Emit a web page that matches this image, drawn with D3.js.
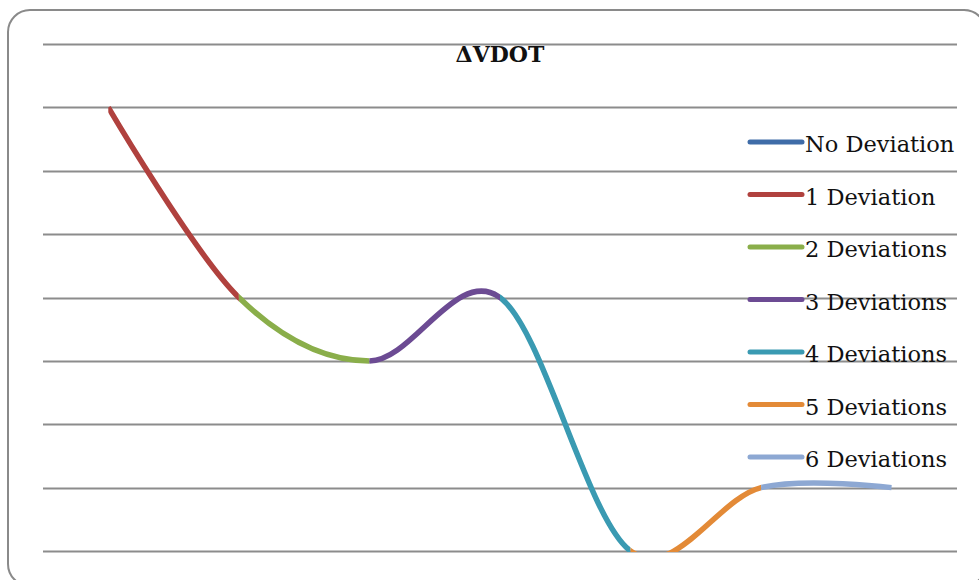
<!DOCTYPE html>
<html>
<head>
<meta charset="utf-8">
<script src="https://cdn.jsdelivr.net/npm/d3@7"></script>
<style>
  html, body { margin: 0; padding: 0; background: #ffffff; }
  svg { display: block; }
</style>
</head>
<body>
<svg id="chart" width="979" height="580"></svg>
<script>
// ---- data ----
const title = "ΔVDOT";
const categories = ["1", "2", "3", "4", "5", "6", "7"];
const vdotValues = [7, 4, 3, 4, 0, 1, 1];
const seriesNames = ["No Deviation", "1 Deviation", "2 Deviations", "3 Deviations", "4 Deviations", "5 Deviations", "6 Deviations"];
// each series covers the segment from point segmentStart[i] to segmentStart[i]+1 (null = not drawn)
const segmentStart = [null, 0, 1, 2, 3, 4, 5];
const seriesColors = ["#3f6ca8", "#b0413e", "#8aae4a", "#6c4b93", "#3a9ab2", "#e38a37", "#8da8d3"];
const yTicks = [0, 1, 2, 3, 4, 5, 6, 7, 8];

// ---- layout ----
const W = 979, H = 580;
const plot = { left: 43, right: 957, top: 44, bottom: 551 };
const svg = d3.select("#chart");

// outer rounded frame
svg.append("rect")
  .attr("x", 8).attr("y", 10)
  .attr("width", 978).attr("height", 576)
  .attr("rx", 22).attr("ry", 22)
  .attr("fill", "#ffffff")
  .attr("stroke", "#8a8a8a")
  .attr("stroke-width", 2);

const x = d3.scaleBand().domain(categories).range([plot.left, plot.right]);
const y = d3.scaleLinear().domain([0, 8]).range([plot.bottom, plot.top]);

// gridlines
svg.append("g").selectAll("line").data(yTicks).join("line")
  .attr("x1", plot.left).attr("x2", plot.right)
  .attr("y1", d => Math.round(y(d)) + 0.5).attr("y2", d => Math.round(y(d)) + 0.5)
  .attr("stroke", "#8c8c8c").attr("stroke-width", 2);

// title
svg.append("text")
  .attr("x", 500).attr("y", 62)
  .attr("text-anchor", "middle")
  .attr("font-family", "'DejaVu Serif', serif")
  .attr("font-weight", "bold")
  .attr("font-size", 22)
  .attr("fill", "#111")
  .text(title);

// smooth curve through all points
const pts = categories.map((c, i) => ({ c, v: vdotValues[i] }));
const line = d3.line()
  .x(d => x(d.c) + x.bandwidth() / 2)
  .y(d => y(d.v))
  .curve(d3.curveCardinal.tension(0));

const defs = svg.append("defs");
seriesNames.forEach((name, i) => {
  const s = segmentStart[i];
  if (s === null) return;
  const x0 = x(categories[s]) + x.bandwidth() / 2;
  const x1 = x(categories[s + 1]) + x.bandwidth() / 2;
  defs.append("clipPath").attr("id", "clip" + i)
    .append("rect")
    .attr("x", x0).attr("y", 0)
    .attr("width", x1 - x0)
    .attr("height", plot.bottom + 1);
  svg.append("path")
    .attr("d", line(pts))
    .attr("clip-path", "url(#clip" + i + ")")
    .attr("fill", "none")
    .attr("stroke", seriesColors[i])
    .attr("stroke-width", 5.5);
});

// legend
const legend = svg.append("g");
const legY0 = 142, legStep = 52.5;
seriesNames.forEach((name, i) => {
  const ly = legY0 + i * legStep;
  legend.append("line")
    .attr("x1", 750).attr("x2", 802)
    .attr("y1", ly).attr("y2", ly)
    .attr("stroke", seriesColors[i])
    .attr("stroke-width", 5)
    .attr("stroke-linecap", "round");
  legend.append("text")
    .attr("x", 805).attr("y", ly + 10)
    .attr("font-family", "'DejaVu Serif', serif")
    .attr("font-size", 22.5)
    .attr("fill", "#111")
    .text(name);
});
</script>
</body>
</html>
